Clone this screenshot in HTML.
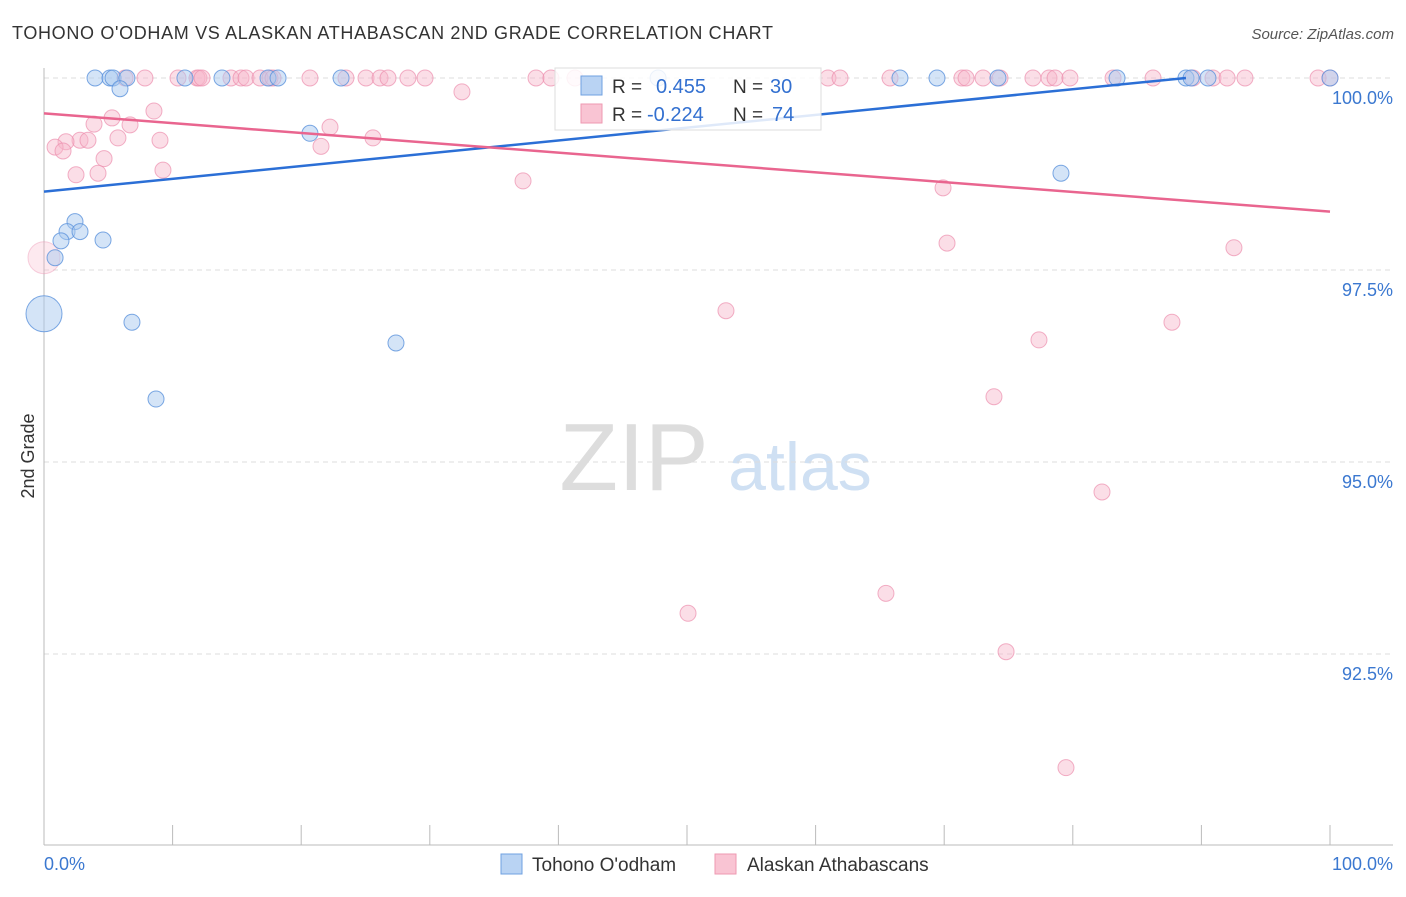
<!DOCTYPE html>
<html><head><meta charset="utf-8"><style>
body{margin:0;background:#fff;font-family:"Liberation Sans",sans-serif}
svg text{font-family:"Liberation Sans",sans-serif}
</style></head><body>
<svg id="c" width="1406" height="892" xmlns="http://www.w3.org/2000/svg">
<text x="12" y="39" font-size="18" fill="#333" textLength="761">TOHONO O'ODHAM VS ALASKAN ATHABASCAN 2ND GRADE CORRELATION CHART</text>
<text x="1394" y="39" font-size="15" fill="#555" text-anchor="end" font-style="italic">Source: ZipAtlas.com</text>
<text x="634" y="490" font-size="96" fill="#ddd" font-family="Liberation Serif" text-anchor="middle">ZIP</text>
<text x="800" y="490" font-size="68" fill="#cfe0f3" text-anchor="middle">atlas</text>
<text x="34" y="456" font-size="18" fill="#333" text-anchor="middle" transform="rotate(-90 34 456)">2nd Grade</text>
<g id="grid"></g><g id="axes"></g><g id="pts"></g><g id="lines"></g>
<g>
<rect x="555" y="68" width="266" height="62" fill="#fff" fill-opacity="0.85" stroke="#ddd"/>
<rect x="581" y="76" width="21" height="19" fill="#b9d3f3" stroke="#6fa0e0"/>
<rect x="581" y="104" width="21" height="19" fill="#f9c4d3" stroke="#ee99b2"/>
<text x="612" y="93" font-size="19" fill="#333">R =</text>
<text x="656" y="93" font-size="20" fill="#3370d0">0.455</text>
<text x="733" y="93" font-size="19" fill="#333">N =</text>
<text x="770" y="93" font-size="20" fill="#3370d0">30</text>
<text x="612" y="121" font-size="19" fill="#333">R =</text>
<text x="647" y="121" font-size="20" fill="#3370d0">-0.224</text>
<text x="733" y="121" font-size="19" fill="#333">N =</text>
<text x="772" y="121" font-size="20" fill="#3370d0">74</text>
</g>
<g>
<rect x="501" y="854" width="21" height="20" fill="#b9d3f3" stroke="#6fa0e0"/>
<text x="532" y="871" font-size="19" fill="#333">Tohono O'odham</text>
<rect x="715" y="854" width="21" height="20" fill="#f9c4d3" stroke="#ee99b2"/>
<text x="747" y="871" font-size="19" fill="#333">Alaskan Athabascans</text>
</g>
</svg>
<script>
const yTicks=[100,97.5,95,92.5];
const yTickLabels=["100.0%","97.5%","95.0%","92.5%"];
const xTickLabels=["0.0%","100.0%"];
const blueX=[3.97,5.13,5.37,6.45,5.91,10.96,13.84,17.42,18.2,23.1,47.75,66.56,69.44,74.18,83.44,88.8,89.2,90.51,100,20.68,79.08,2.41,1.79,2.8,1.32,4.59,0.86,0,6.84,27.37,8.71];
const blueY=[100,100,100,100,99.86,100,100,100,100,100,100,100,100,100,100,100,100,100,100,99.28,98.76,98.13,98.0,98.0,97.88,97.89,97.66,96.93,96.82,96.55,95.82];
const blueR=[8,8,8,8,8,8,8,8,8,8,8,8,8,8,8,8,8,8,8,8,8,8,8,8,8,8,8,18,8,8,8];
const pinkX=[6.3,7.85,10.42,11.9,12.05,12.29,14.54,15.32,15.71,16.8,17.57,17.81,20.68,23.48,25.04,26.13,26.75,28.3,29.63,38.26,39.42,41.29,60.96,61.9,65.79,71.38,71.7,73.02,74.34,76.9,78.15,78.62,79.78,83.13,86.24,89.35,90.9,92.0,93.39,99.07,100,
32.5,8.55,5.29,3.89,6.69,22.24,2.8,1.71,3.42,9.02,25.58,5.75,0.86,1.48,21.54,4.67,9.25,2.49,4.2,37.25,69.91,70.22,92.53,0,53.03,87.71,77.37,73.87,82.27,65.47,50.08,74.81,79.47];
const pinkY=[100,100,100,100,100,100,100,100,100,100,100,100,100,100,100,100,100,100,100,100,100,100,100,100,100,100,100,100,100,100,100,100,100,100,100,100,100,100,100,100,100,
99.82,99.57,99.48,99.4,99.39,99.36,99.19,99.17,99.19,99.19,99.22,99.22,99.1,99.05,99.11,98.95,98.8,98.74,98.76,98.66,98.57,97.85,97.79,97.66,96.97,96.82,96.59,95.85,94.61,93.29,93.03,92.53,91.02];
const blueLine=[98.52,100];
const blueLineX=[0,88.8];
const pinkLine=[99.54,98.26];
const pinkLineX=[0,100];
const NS="http://www.w3.org/2000/svg";
const X=v=>44+v*12.86, Y=v=>78+(100-v)*76.8;
function mk(t,a,p){const e=document.createElementNS(NS,t);for(const k in a)e.setAttribute(k,a[k]);p.appendChild(e);return e;}
const grid=document.getElementById('grid'),axes=document.getElementById('axes'),pts=document.getElementById('pts'),lines=document.getElementById('lines');
yTicks.forEach((t,i)=>{
 const l=mk('line',{x1:44,x2:1393,y1:Y(t),y2:Y(t),stroke:'#ddd','stroke-dasharray':'5,4'},grid);
 
 
 const tx=mk('text',{x:1393,y:Y(t)+26,'font-size':18,fill:'#3b78d0','text-anchor':'end'},grid);
 tx.textContent=yTickLabels[i];
 
 
});
const ax=mk('line',{x1:44,x2:1393,y1:845,y2:845,stroke:'#bbb'},axes);


const ay=mk('line',{x1:44,x2:44,y1:68,y2:845,stroke:'#bbb'},axes);


for(let i=0;i<=10;i++){
 const t=mk('line',{x1:X(i*10),x2:X(i*10),y1:825,y2:845,stroke:'#bbb'},axes);
 
 
}
[[0,'start',44],[100,'end',1393]].forEach((d,i)=>{
 const tx=mk('text',{x:d[2],y:870,'font-size':18,fill:'#3b78d0','text-anchor':d[1]},axes);
 tx.textContent=xTickLabels[i];
 
 
});
pinkX.forEach((x,i)=>{
 const big=(x===0&&pinkY[i]<98);
 const c=mk('circle',{cx:X(x),cy:Y(pinkY[i]),r:big?16:8,fill:'#f7b6ca','fill-opacity':big?0.3:0.45,stroke:'#ec8fae','stroke-opacity':big?0.4:0.7},pts);
 
 
});
blueX.forEach((x,i)=>{
 const c=mk('circle',{cx:X(x),cy:Y(blueY[i]),r:blueR[i],fill:'#a9c9f0','fill-opacity':0.5,stroke:'#5b92dc','stroke-opacity':0.8},pts);
 
 
});
const bl=mk('line',{x1:X(blueLineX[0]),y1:Y(blueLine[0]),x2:X(blueLineX[1]),y2:Y(blueLine[1]),stroke:'#2b6fd6','stroke-width':2.5},lines);


const pl=mk('line',{x1:X(pinkLineX[0]),y1:Y(pinkLine[0]),x2:X(pinkLineX[1]),y2:Y(pinkLine[1]),stroke:'#e9658f','stroke-width':2.5},lines);


</script>
</body></html>
